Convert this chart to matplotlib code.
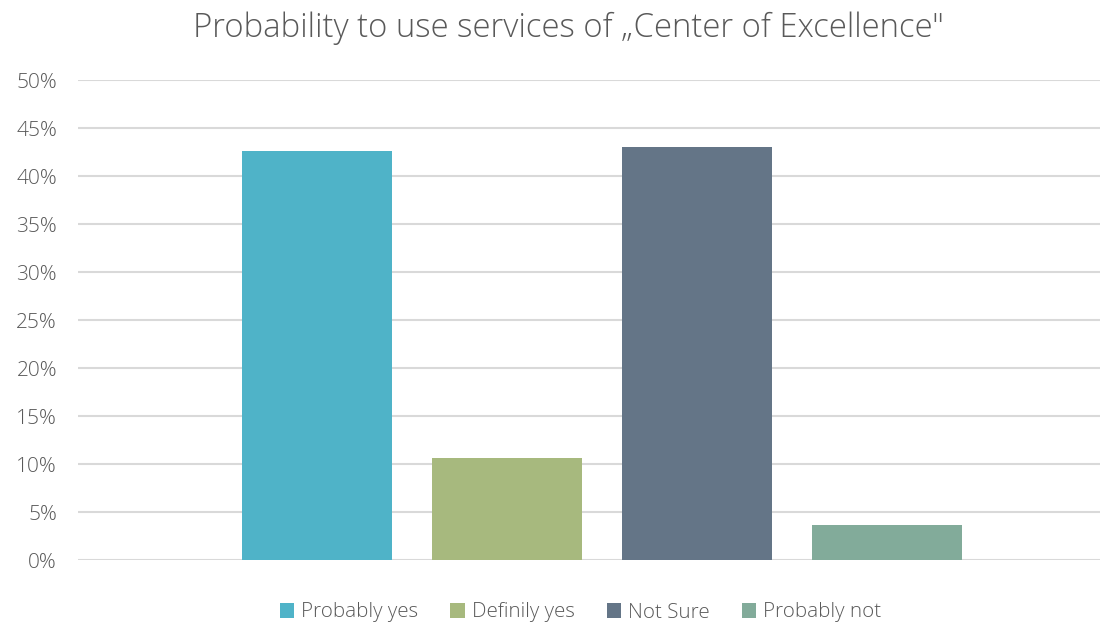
import matplotlib.pyplot as plt
import numpy as np

# data
series = ["Probably yes", "Definily yes", "Not Sure", "Probably not"]
values = [42.6, 10.6, 43.0, 3.6]
colors = ["#4fb3c8", "#a7b97e", "#647587", "#82ab9a"]
yticks = [0, 5, 10, 15, 20, 25, 30, 35, 40, 45, 50]

plt.rcParams['font.family'] = ['Open Sans', 'DejaVu Sans']

fig = plt.figure(figsize=(11.12, 6.25), dpi=100)
ax = fig.add_axes([0.0701, 0.104, 0.919, 0.768])

x = np.arange(len(series))
for i, (name, v, c) in enumerate(zip(series, values, colors)):
    ax.bar(x[i], v, width=0.79, color=c, label=name, zorder=3)

ax.set_xlim(-1.258, 4.121)
ax.set_ylim(0, 50)
ax.set_yticks(yticks)
ax.set_yticklabels([f"{t}%" for t in yticks])
ax.set_xticks([])
ax.grid(axis="y", color="#d9d9d9", linewidth=1.5, zorder=0)
for s in ax.spines.values():
    s.set_visible(False)
ax.tick_params(axis="y", length=0, pad=15, labelsize=15, labelcolor="#595959")
for lab in ax.get_yticklabels():
    lab.set_fontweight("light")

fig.text(0.511, 0.955, "Probability to use services of \u201eCenter of Excellence\"",
         ha="center", va="center", fontsize=23.7, color="#595959",
         fontweight="light")

leg = fig.legend(loc="center", bbox_to_anchor=(0.522, 0.02), ncol=4, frameon=False,
                 handlelength=0.7, handleheight=0.7, handletextpad=0.35,
                 columnspacing=1.55, fontsize=14.8, labelcolor="#595959")
for t in leg.get_texts():
    t.set_fontweight("light")

fig.savefig("out.png", dpi=100)
